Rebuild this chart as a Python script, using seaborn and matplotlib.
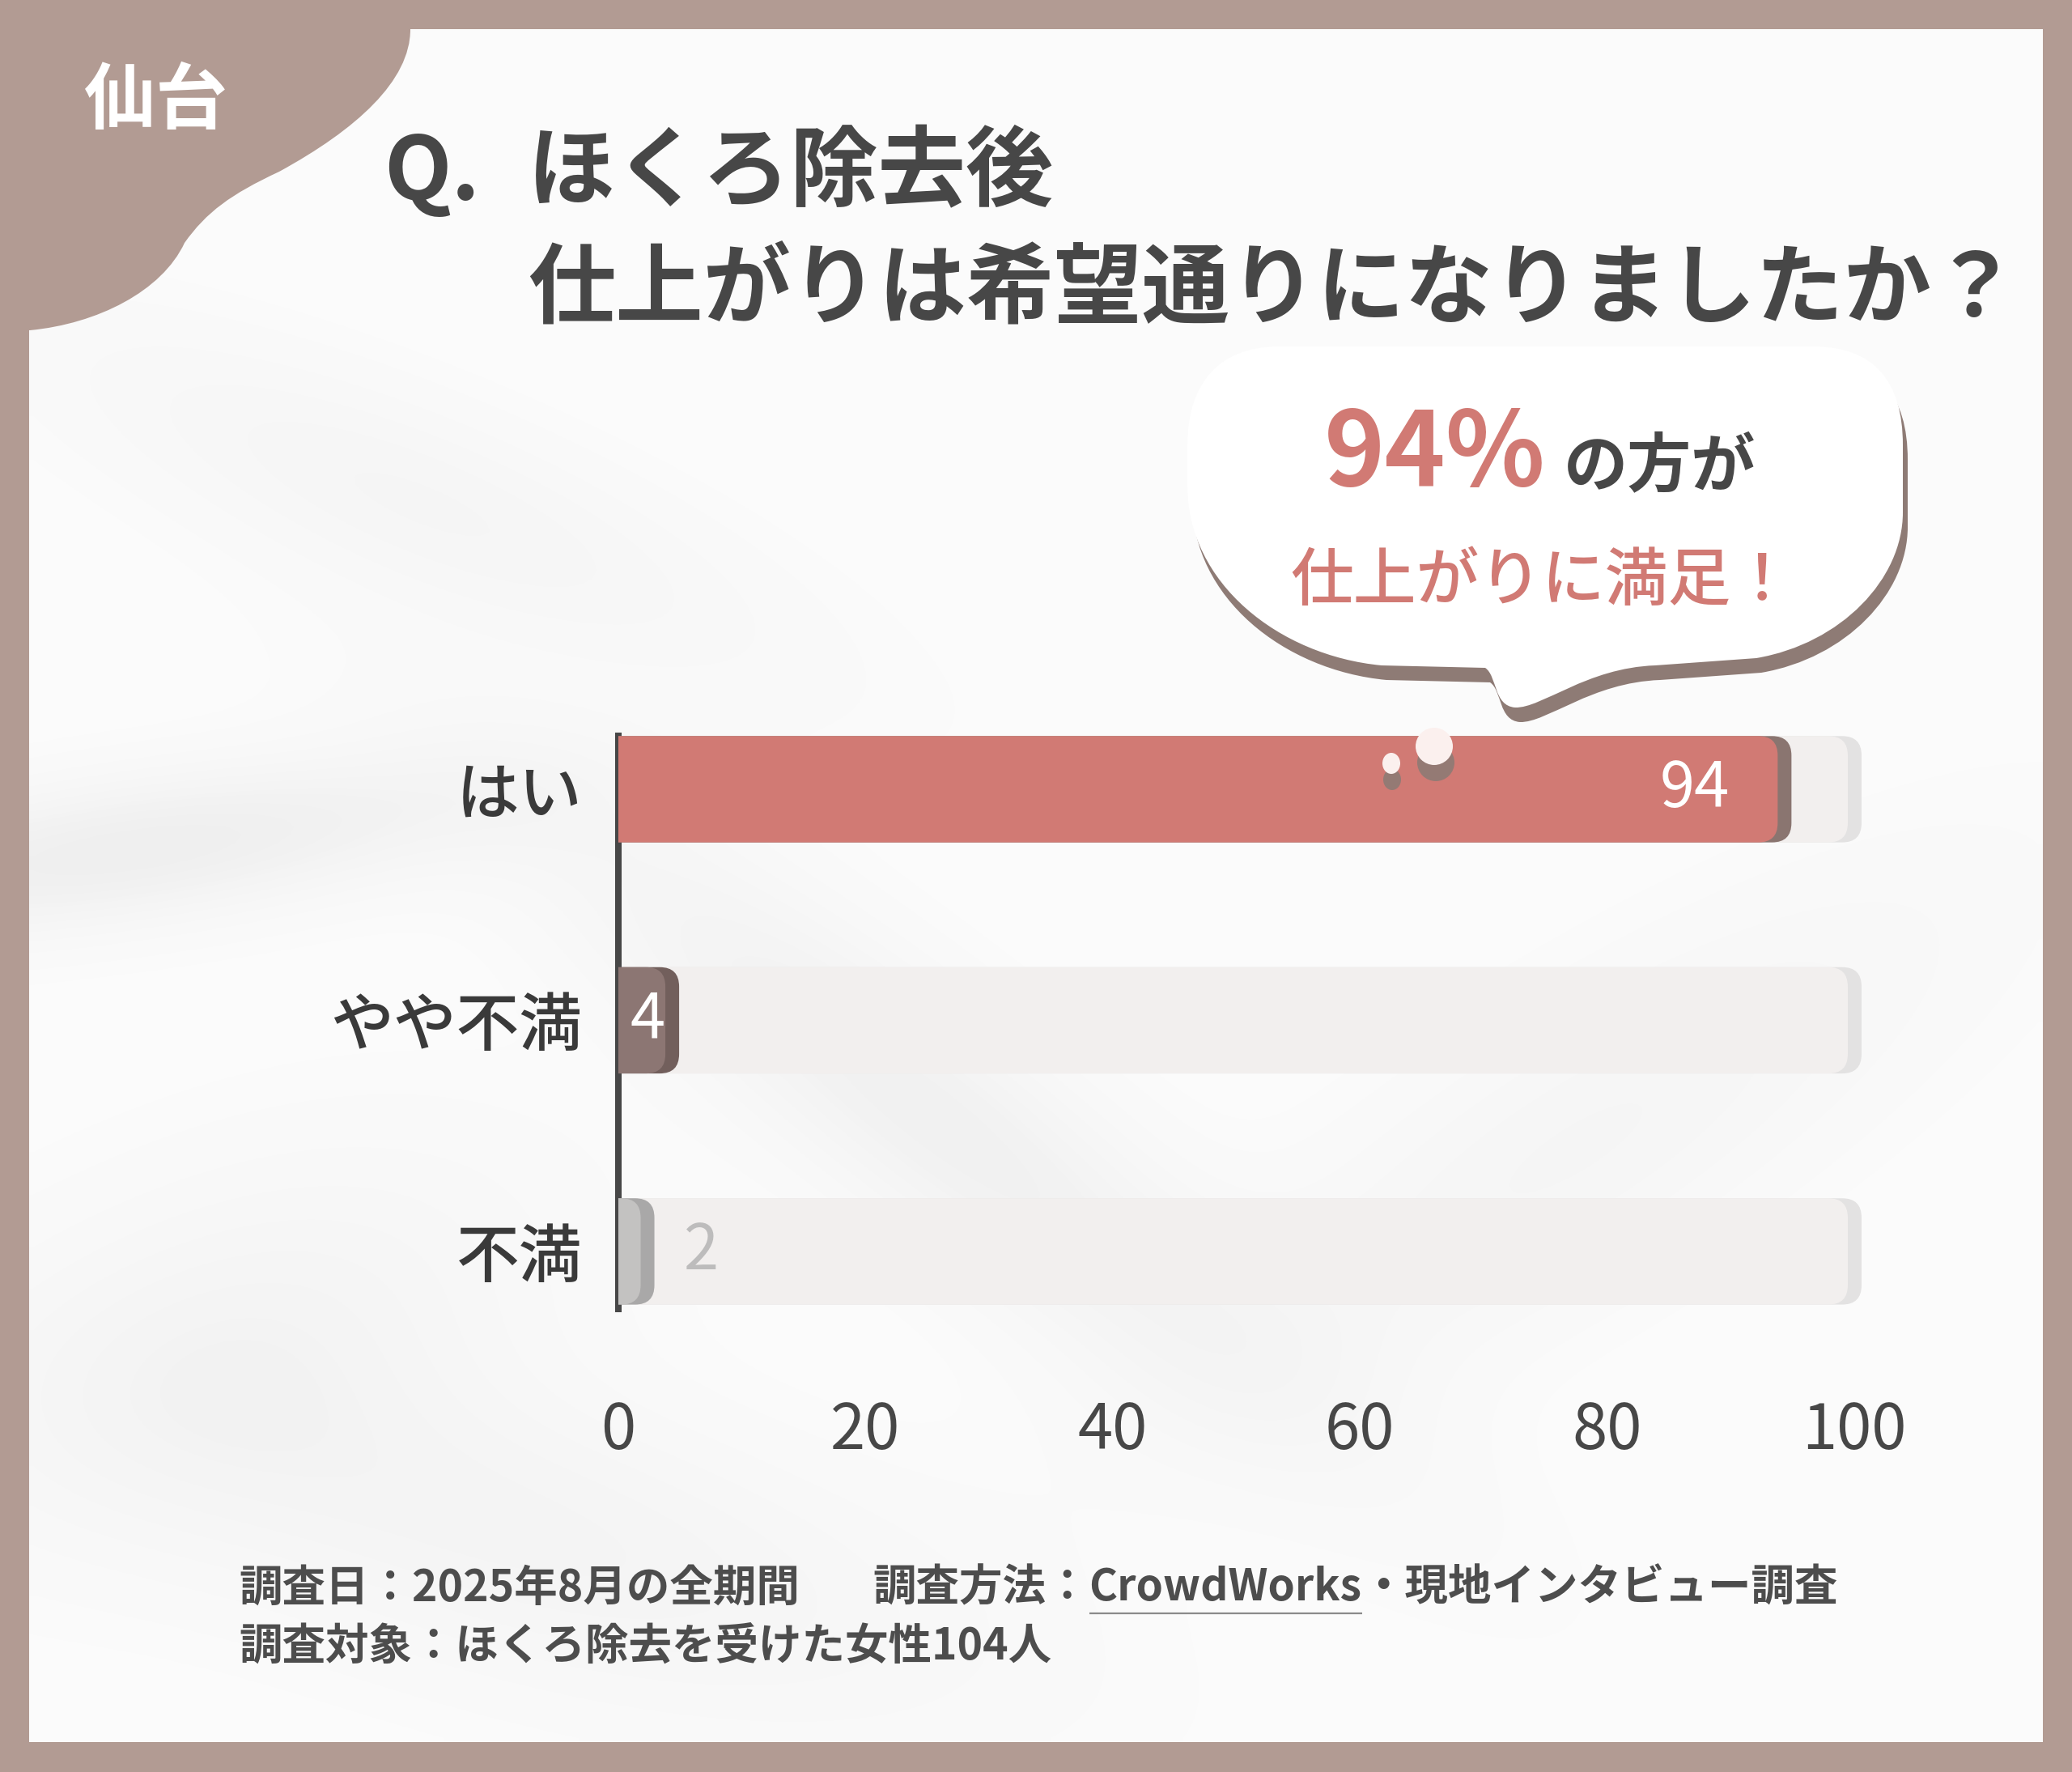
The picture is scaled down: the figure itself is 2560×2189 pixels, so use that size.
import numpy as np
import pandas as pd
import matplotlib
matplotlib.use("Agg")
import matplotlib.pyplot as plt
import seaborn as sns
from matplotlib.patches import FancyBboxPatch, PathPatch, Ellipse, Rectangle
from matplotlib.path import Path

# ---------------- data ----------------
categories = ["はい", "やや不満", "不満"]
values = [94, 4, 2]
xticks = [0, 20, 40, 60, 80, 100]
scale_max = 100

city = "仙台"
title_q = "Q."
title_line1 = "ほくろ除去後"
title_line2 = "仕上がりは希望通りになりましたか？"
bubble_pct = "94%"
bubble_rest = "の方が"
bubble_line2 = "仕上がりに満足！"
footer_date = "調査日：2025年8月の全期間"
footer_method_a = "調査方法："
footer_method_link = "CrowdWorks"
footer_method_b = "・現地インタビュー調査"
footer_target = "調査対象：ほくろ除去を受けた女性104人"

bar_colors = ["#d17a74", "#8c7673", "#c3c2c1"]
shadow_colors = ["#8a7570", "#725f5c", "#a9a8a8"]
label_colors = ["#ffffff", "#ffffff", "#bdbcbc"]
track_color = "#f2efee"
track_shadow = "#e3e2e2"
frame_color = "#b29b93"
text_dark = "#474747"
accent = "#d17a74"

# ---------------- figure ----------------
W, H, DPI = 2560, 2189, 100
sns.set_theme(style="white")
plt.rcParams['font.family'] = ['Noto Sans CJK JP', 'DejaVu Sans']

fig = plt.figure(figsize=(W / DPI, H / DPI), dpi=DPI, facecolor=frame_color)

# background layer (pixel coordinates, y downwards)
bg = fig.add_axes([0, 0, 1, 1], zorder=0)
bg.axis('off')
bg.add_patch(Rectangle((36, 36), 2488, 2116, fc="#fbfbfb", ec="none", zorder=0))

# soft leaf-like shadows on the paper
shadow_blobs = [
    (160, 1050, 320, 60, -8, 1.0),
    (1150, 1380, 420, 90, 38, 0.8),
    (650, 1900, 380, 120, 15, 0.55),
    (1950, 1420, 380, 110, -32, 0.45),
    (520, 620, 320, 80, 22, 0.45),
    (300, 1650, 260, 140, -20, 0.5),
]
gy, gx = np.mgrid[36:2152:220j, 36:2524:256j]
shade = np.zeros_like(gx)
for cx, cy, sx, sy, ang, amp in shadow_blobs:
    a = np.deg2rad(ang)
    dx, dy = gx - cx, gy - cy
    u = dx * np.cos(a) + dy * np.sin(a)
    v = -dx * np.sin(a) + dy * np.cos(a)
    shade += amp * np.exp(-0.5 * (u / sx) ** 2 - 0.5 * (v / sy) ** 2)
img = np.zeros(shade.shape + (4,))
img[..., :3] = 0.45
img[..., 3] = np.clip(shade, 0, 1) * 0.09
bg.imshow(img, extent=(36, 2524, 2152, 36), aspect='auto', interpolation='bilinear', zorder=1)

# top-left corner blob
blob_verts = [(0, 0), (507, 0), (507, 36),
              (507, 100), (440, 160), (345, 212),
              (285, 240), (255, 262), (228, 300),
              (200, 360), (120, 400), (37, 408),
              (0, 408), (0, 0)]
blob_codes = [Path.MOVETO, Path.LINETO, Path.LINETO,
              Path.CURVE4, Path.CURVE4, Path.CURVE4,
              Path.CURVE4, Path.CURVE4, Path.CURVE4,
              Path.CURVE4, Path.CURVE4, Path.CURVE4,
              Path.LINETO, Path.CLOSEPOLY]
bg.add_patch(PathPatch(Path(blob_verts, blob_codes), fc=frame_color, ec="none", zorder=2))
bg.set_xlim(0, W)
bg.set_ylim(H, 0)

# ---------------- chart ----------------
px_per_unit = 1527 / scale_max
view_max = scale_max + 2
ax = fig.add_axes([764 / W, 1 - 1617 / H, view_max * px_per_unit / W, 708 / H], zorder=2)
ax.patch.set_alpha(0)

df = pd.DataFrame({"category": categories, "value": values})
track_df = pd.DataFrame({"category": categories, "value": [scale_max] * len(categories)})

sns.barplot(data=track_df, x="value", y="category", orient="h", color=track_color,
            width=0.46, ax=ax)
n_track = len(ax.patches)
sns.barplot(data=df, x="value", y="category", hue="category", orient="h",
            palette=bar_colors, legend=False, width=0.46, dodge=False, ax=ax)

ax.set_xlim(0, view_max)
ax.set_ylim(2.249, -0.231)

p0 = ax.transData.transform((0, 0))
p1 = ax.transData.transform((1, 1))
ppx = p1[0] - p0[0]
ppy = abs(p1[1] - p0[1])
asp = ppx / ppy
rad = 24 / ppx
ext = 40 / ppx

rects = list(ax.patches)
for i, r in enumerate(rects):
    x, y, w, h = r.get_x(), r.get_y(), r.get_width(), r.get_height()
    r.remove()
    idx = int(round(y + h / 2))
    if i < n_track:
        fc, sc, z = track_color, track_shadow, 1
        d_main, d_shadow = -8, 9
    else:
        fc, sc, z = bar_colors[idx], shadow_colors[idx], 3
        d_main, d_shadow = -3, 14
    x0 = x - ext
    end = x + w
    style = f"round,pad=0,rounding_size={rad}"
    ax.add_patch(FancyBboxPatch((x0, y), end + d_shadow / ppx - x0, h, boxstyle=style,
                                mutation_aspect=asp, fc=sc, ec="none", zorder=z))
    ax.add_patch(FancyBboxPatch((x0, y), end + d_main / ppx - x0, h, boxstyle=style,
                                mutation_aspect=asp, fc=fc, ec="none", zorder=z + 0.5))

# value labels
for i, (cat, val) in enumerate(zip(categories, values)):
    if val >= 10:
        ax.text(val - 63 / ppx, i, str(val), ha="right", va="center",
                fontsize=56, color=label_colors[i], zorder=6)
    elif val >= 4:
        ax.text(val / 2 + 6 / ppx, i, str(val), ha="center", va="center",
                fontsize=56, color=label_colors[i], zorder=6)
    else:
        ax.text(val + 72 / ppx, i, str(val), ha="center", va="center",
                fontsize=56, color=label_colors[i], zorder=6)

ax.set_xticks(xticks)
ax.set_xticklabels([str(t) for t in xticks])
ax.set_xlabel("")
ax.set_ylabel("")
ax.tick_params(axis="x", length=0, pad=80, labelsize=56, labelcolor=text_dark)
ax.tick_params(axis="y", length=0, pad=32, labelsize=56, labelcolor="#3a3a3a")
for lab in ax.get_yticklabels():
    lab.set_fontweight("medium")
ax.grid(False)
for s in ["top", "right", "bottom"]:
    ax.spines[s].set_visible(False)
ax.spines["left"].set_color(text_dark)
ax.spines["left"].set_linewidth(5.8)

# ---------------- overlay (bubble, titles, footer) ----------------
ov = fig.add_axes([0, 0, 1, 1], zorder=3)
ov.patch.set_alpha(0)
ov.axis('off')
ov.set_xlim(0, W)
ov.set_ylim(H, 0)

bub_verts = [(1580, 428),
             (2240, 428),
             (2315, 428), (2351, 470), (2351, 550),
             (2351, 633),
             (2351, 715), (2275, 795), (2170, 813),
             (2045, 822),
             (1960, 825), (1905, 875), (1872, 874),
             (1845, 872), (1850, 835), (1835, 825),
             (1707, 822),
             (1580, 810), (1467, 720), (1467, 600),
             (1467, 550),
             (1467, 475), (1505, 428), (1580, 428),
             (1580, 428)]
bub_codes = [Path.MOVETO, Path.LINETO,
             Path.CURVE4, Path.CURVE4, Path.CURVE4,
             Path.LINETO,
             Path.CURVE4, Path.CURVE4, Path.CURVE4,
             Path.LINETO,
             Path.CURVE4, Path.CURVE4, Path.CURVE4,
             Path.CURVE4, Path.CURVE4, Path.CURVE4,
             Path.LINETO,
             Path.CURVE4, Path.CURVE4, Path.CURVE4,
             Path.LINETO,
             Path.CURVE4, Path.CURVE4, Path.CURVE4,
             Path.CLOSEPOLY]
bub_arr = np.array(bub_verts, dtype=float)
ov.add_patch(PathPatch(Path(bub_arr + [6, 18], bub_codes), fc="#8e7b75", ec="none", zorder=1))
ov.add_patch(PathPatch(Path(bub_arr, bub_codes), fc="#ffffff", ec="none", zorder=2))

# droplets over the top bar
ov.add_patch(Ellipse((1774, 942), 46, 46, fc="#8e7b75", ec="none", alpha=0.9, zorder=1))
ov.add_patch(Ellipse((1772, 922), 46, 46, fc="#fbf0ee", ec="none", zorder=2))
ov.add_patch(Ellipse((1720, 963), 22, 26, fc="#8e7b75", ec="none", alpha=0.9, zorder=1))
ov.add_patch(Ellipse((1719, 943), 22, 26, fc="#fbf0ee", ec="none", zorder=2))

# bubble texts
ov.text(1910, 600, bubble_pct, ha="right", va="baseline", fontsize=92,
        fontweight="bold", color=accent, zorder=5)
ov.text(1932, 600, bubble_rest, ha="left", va="baseline", fontsize=57,
        fontweight="bold", color=text_dark, zorder=5)
ov.text(1905, 718, bubble_line2, ha="center", va="center", fontsize=56,
        fontweight="medium", color=accent, zorder=5)

# corner label and titles
ov.text(193, 126, city, ha="center", va="center", fontsize=64, fontweight="bold",
        color="#ffffff", zorder=5)
ov.text(474, 215, title_q, ha="left", va="center", fontsize=78, fontweight="bold",
        color=text_dark, zorder=5)
ov.text(652, 215, title_line1, ha="left", va="center", fontsize=78, fontweight="bold",
        color=text_dark, zorder=5)
ov.text(652, 360, title_line2, ha="left", va="center", fontsize=78, fontweight="bold",
        color=text_dark, zorder=5)

# footer
foot_kw = dict(va="center", fontsize=38.5, fontweight="bold", color="#4d4d4d", zorder=5)
ov.text(295, 1962, footer_date, ha="left", **foot_kw)
ov.text(295, 2035, footer_target, ha="left", **foot_kw)
fig.canvas.draw()
renderer = fig.canvas.get_renderer()
inv = ov.transData.inverted()
t_a = ov.text(1078, 1962, footer_method_a, ha="left", **foot_kw)
xa = inv.transform(t_a.get_window_extent(renderer).get_points())[:, 0].max()
t_b = ov.text(xa, 1962, footer_method_link, ha="left", **foot_kw)
bb = inv.transform(t_b.get_window_extent(renderer).get_points())
xb0, xb1 = bb[:, 0].min(), bb[:, 0].max()
ov.plot([xb0, xb1], [1993, 1993], color="#8a8a8a", lw=1.6, zorder=5, solid_capstyle="butt")
ov.text(xb1, 1962, footer_method_b, ha="left", **foot_kw)

fig.savefig("out.png", dpi=DPI, facecolor=fig.get_facecolor())
